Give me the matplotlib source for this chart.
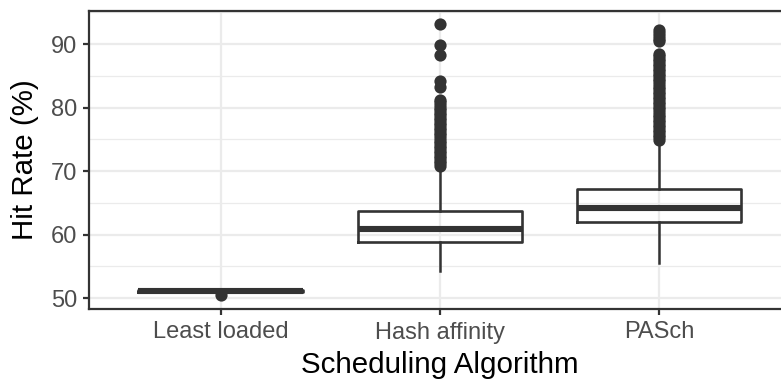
import matplotlib
matplotlib.use("Agg")
import matplotlib.pyplot as plt
import numpy as np

# box summary
labels = ["Least loaded", "Hash affinity", "PASch"]
whislo = [51.0, 54.3, 55.5]
q1 = [51.0, 58.9, 62.0]
med = [51.1, 60.8, 64.1]
q3 = [51.2, 63.75, 67.2]
whishi = [51.2, 70.5, 74.5]

# outliers
fliers_least = [50.45]
fliers_hash = [93.2, 89.8, 88.3, 84.1, 83.3,
               81.2, 80.8, 80.4, 80.0, 79.6, 79.2, 78.8, 78.4, 78.0, 77.6,
               77.2, 76.8, 76.4, 76.0, 75.6, 75.2, 74.8, 74.4, 74.0, 73.6,
               73.2, 72.8, 72.4, 72.0, 71.6, 71.2, 70.8]
fliers_pasch = [92.2, 91.8, 91.3, 90.8, 90.4,
                88.5, 88.1, 87.7, 87.3, 86.9, 86.5, 86.1, 85.7, 85.3, 84.9,
                84.5, 84.1, 83.7, 83.3, 82.9, 82.5, 82.1, 81.7, 81.3, 80.9,
                80.5, 80.1, 79.7, 79.3, 78.9, 78.5, 78.1, 77.7, 77.3, 76.9,
                76.5, 76.1, 75.7, 75.3, 74.9]
fliers = [fliers_least, fliers_hash, fliers_pasch]

dark = "#333333"
plt.rcParams['font.family'] = ['Liberation Sans', 'DejaVu Sans']

fig = plt.figure(figsize=(7.81, 3.79), dpi=100)
ax = fig.add_axes([89 / 781, 70 / 379, 701.7 / 781, 298 / 379])

stats = []
for i in range(len(labels)):
    stats.append(dict(label=labels[i], whislo=whislo[i], q1=q1[i], med=med[i],
                      q3=q3[i], whishi=whishi[i], fliers=fliers[i]))

ax.bxp(stats, positions=[1, 2, 3], widths=0.75, showcaps=False, zorder=3,
       boxprops=dict(color=dark, linewidth=1.9),
       whiskerprops=dict(color=dark, linewidth=1.8),
       medianprops=dict(color=dark, linewidth=4.4, solid_capstyle='butt'),
       flierprops=dict(marker='o', markersize=8.8, markerfacecolor=dark,
                       markeredgecolor=dark, markeredgewidth=0))

ax.set_xlim(0.4, 3.6)
ax.set_ylim(48.27, 95.2)
ax.set_yticks([50, 60, 70, 80, 90])
ax.set_yticks([55, 65, 75, 85, 95], minor=True)
ax.set_xticks([1, 2, 3])
ax.set_xticklabels(labels)

ax.grid(True, which='major', color='#EBEBEB', linewidth=1.6, zorder=0)
ax.grid(True, which='minor', axis='y', color='#EBEBEB', linewidth=0.9, zorder=0)
ax.set_axisbelow(True)

for s in ax.spines.values():
    s.set_color(dark)
    s.set_linewidth(1.6)

ax.tick_params(axis='both', which='major', length=4.5, width=1.6, color=dark,
               labelcolor='#4D4D4D', labelsize=17)
ax.tick_params(axis='x', pad=4.5)
ax.tick_params(axis='y', pad=4)
ax.tick_params(axis='y', which='minor', length=0)

ax.set_xlabel("Scheduling Algorithm", fontsize=21.25, color='black', labelpad=5.5)
ax.set_ylabel("Hit Rate (%)", fontsize=21.25, color='black', labelpad=8.5)

fig.savefig("out.png", dpi=100)
